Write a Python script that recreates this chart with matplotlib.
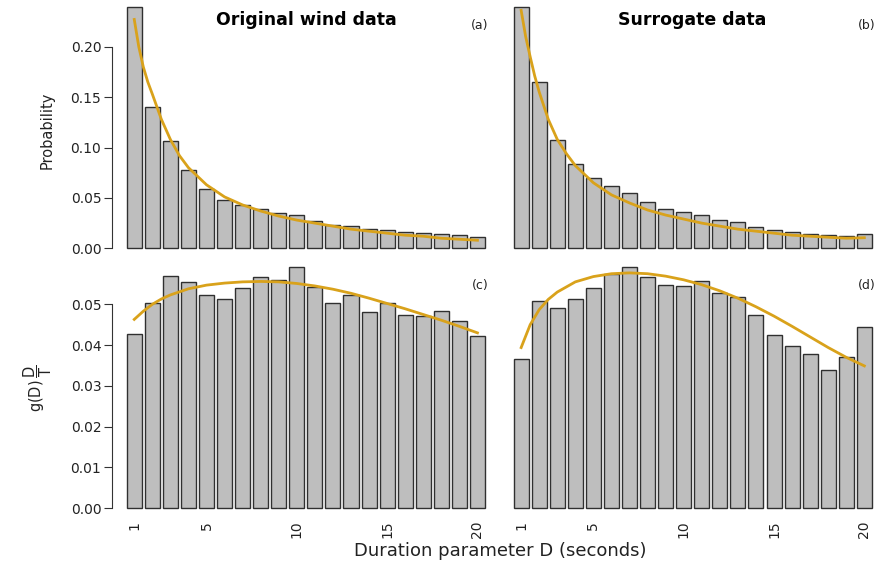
import numpy as np
import matplotlib
matplotlib.use("Agg")
import matplotlib.pyplot as plt

plt.rcParams["font.family"] = ["DejaVu Sans"]
plt.rcParams["mathtext.fontset"] = "custom"
plt.rcParams["mathtext.rm"] = "DejaVu Sans"

# durations (seconds)
durations = np.arange(1, 21)

# (a) original wind data - probability
prob_orig = [0.239, 0.140, 0.106, 0.0777, 0.0585, 0.0476, 0.0427, 0.0393, 0.0347, 0.0327,
             0.0274, 0.0228, 0.0221, 0.0191, 0.0185, 0.0165, 0.0155, 0.0145, 0.0135, 0.0112]
# (b) surrogate data - probability
prob_surr = [0.239, 0.165, 0.107, 0.0836, 0.070, 0.062, 0.055, 0.046, 0.039, 0.0357,
             0.0327, 0.028, 0.0258, 0.0214, 0.0185, 0.0165, 0.0139, 0.0129, 0.0125, 0.0142]
# (c) original wind data - g(D) D/T
gdt_orig = [0.0427, 0.0502, 0.0569, 0.0555, 0.0524, 0.0513, 0.0541, 0.0568, 0.0559, 0.0592,
            0.0543, 0.0503, 0.0522, 0.0482, 0.0502, 0.0473, 0.0472, 0.0484, 0.0460, 0.0423]
# (d) surrogate data - g(D) D/T
gdt_surr = [0.0367, 0.0509, 0.0492, 0.0512, 0.0539, 0.0574, 0.0591, 0.0567, 0.0547, 0.0545,
            0.0556, 0.0527, 0.0517, 0.0473, 0.0425, 0.0399, 0.0378, 0.0340, 0.0371, 0.0445]

# fitted curves
fit_x_top = [1, 1.25, 1.5, 1.75, 2, 2.5, 3, 3.5, 4, 5, 6, 7, 8, 9, 10, 11, 12, 13, 14, 15, 16, 17, 18, 19, 20]
fit_a = [0.227, 0.200, 0.180, 0.165, 0.153, 0.128, 0.108, 0.092, 0.080, 0.063, 0.051, 0.043, 0.037, 0.032,
         0.028, 0.025, 0.022, 0.019, 0.017, 0.015, 0.013, 0.012, 0.010, 0.009, 0.008]
fit_b = [0.236, 0.210, 0.190, 0.171, 0.155, 0.128, 0.108, 0.094, 0.082, 0.065, 0.053, 0.045, 0.038, 0.033,
         0.029, 0.025, 0.022, 0.019, 0.017, 0.015, 0.013, 0.012, 0.011, 0.010, 0.0105]
fit_x_bot = [1, 1.5, 2, 2.5, 3, 4, 5, 6, 7, 8, 9, 10, 11, 12, 13, 14, 15, 16, 17, 18, 19, 20]
fit_c = [0.0463, 0.0483, 0.0500, 0.0513, 0.0523, 0.0538, 0.0547, 0.0552, 0.0555, 0.0556, 0.0555, 0.0551,
         0.0545, 0.0537, 0.0527, 0.0515, 0.0502, 0.0489, 0.0475, 0.0461, 0.0446, 0.0430]
fit_d = [0.0394, 0.0450, 0.0487, 0.0512, 0.0530, 0.0555, 0.0568, 0.0575, 0.0577, 0.0575, 0.0569, 0.0560,
         0.0548, 0.0533, 0.0515, 0.0494, 0.0471, 0.0446, 0.0420, 0.0394, 0.0370, 0.0349]

W, H = 879, 564
BAR_COLOR = "#BEBEBE"
EDGE_COLOR = "#303030"
FIT_COLOR = "#D9A21B"

fig = plt.figure(figsize=(W / 100, H / 100), dpi=100)


def px_rect(x0, y0, x1, y1):
    return [x0 / W, 1 - y1 / H, (x1 - x0) / W, (y1 - y0) / H]


col_x = [(112.4, 499.3), (499.3, 886.2)]
row_y = [(0, 258), (258, 518)]
ylims = [(-0.0096, 0.2463), (-0.00238, 0.06135)]

panels = [
    (0, 0, prob_orig, fit_x_top, fit_a, "(a)"),
    (0, 1, prob_surr, fit_x_top, fit_b, "(b)"),
    (1, 0, gdt_orig, fit_x_bot, fit_c, "(c)"),
    (1, 1, gdt_surr, fit_x_bot, fit_d, "(d)"),
]

for r, c, vals, fx, fy, tag in panels:
    x0, x1 = col_x[c]
    y0, y1 = row_y[r]
    ax = fig.add_axes(px_rect(x0, y0, x1, y1))
    ax.bar(durations, vals, width=1 / 1.2, color=BAR_COLOR, edgecolor=EDGE_COLOR, linewidth=1.0)
    ax.plot(fx, fy, color=FIT_COLOR, lw=2.0, zorder=5)
    ax.set_xlim(-0.21, 21.21)
    ax.set_ylim(*ylims[r])
    for s in ["top", "right", "bottom"]:
        ax.spines[s].set_visible(False)
    ax.patch.set_alpha(0)

    if c == 0:
        ax.spines["left"].set_color("#333333")
        if r == 0:
            ticks = np.arange(0, 0.201, 0.05)
            ax.spines["left"].set_bounds(0, 0.20)
        else:
            ticks = np.arange(0, 0.0501, 0.01)
            ax.spines["left"].set_bounds(0, 0.05)
        ax.set_yticks(ticks)
        ax.set_yticklabels([f"{t:.2f}" for t in ticks], fontsize=10, color="#222222")
        ax.tick_params(axis="y", length=6, width=0.8, pad=2, color="#333333")
    else:
        ax.spines["left"].set_visible(False)
        ax.set_yticks([])

    if r == 1:
        ax.set_xticks([1, 5, 10, 15, 20])
        ax.set_xticklabels(["1", "5", "10", "15", "20"], rotation=90, fontsize=10, color="#222222")
        ax.tick_params(axis="x", length=0, pad=2)
    else:
        ax.set_xticks([])

    tx = 480 if c == 0 else 867
    ty = 26 if r == 0 else 285
    fig.text(tx / W, 1 - ty / H, tag, fontsize=9, ha="center", va="center", color="#222222")

fig.text(306 / W, 1 - 20 / H, "Original wind data", fontsize=12.5, fontweight="bold",
         ha="center", va="center")
fig.text(692.5 / W, 1 - 20 / H, "Surrogate data", fontsize=12.5, fontweight="bold",
         ha="center", va="center")
fig.text(47 / W, 1 - 130 / H, "Probability", fontsize=10.5, rotation=90, ha="center", va="center",
         color="#222222")
fig.text(38 / W, 1 - 388 / H, r"$\mathrm{g(D)}\,\dfrac{\mathrm{D}}{\mathrm{T}}$", fontsize=10.5,
         rotation=90, ha="center", va="center", color="#222222")
fig.text(500 / W, 1 - 551 / H, "Duration parameter D (seconds)", fontsize=13, ha="center",
         va="center", color="#222222")

fig.savefig("out.png", dpi=100)
